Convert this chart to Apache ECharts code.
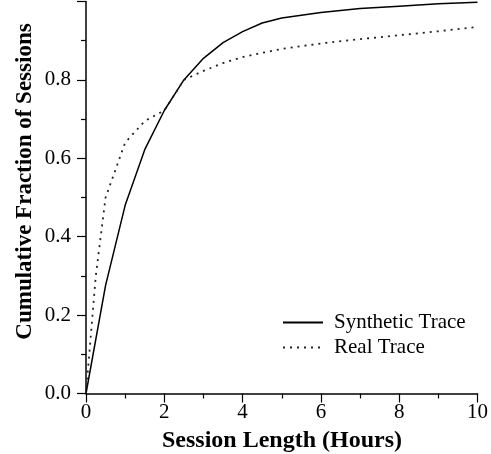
<!DOCTYPE html>
<html>
<head>
<meta charset="utf-8">
<script src="https://cdn.jsdelivr.net/npm/echarts@6/dist/echarts.min.js"></script>
<style>html,body{margin:0;padding:0;background:#fff;}#c{width:491px;height:454px;}</style>
</head>
<body>
<div id="c"></div>
<script>
var synthX = [0, 0.5, 1, 1.5, 2, 2.5, 3, 3.5, 4, 4.5, 5, 6, 7, 8, 9, 10];
var synthY = [0, 0.276, 0.48, 0.622, 0.722, 0.80, 0.855, 0.895, 0.923, 0.945, 0.958, 0.972, 0.982, 0.988, 0.994, 0.998];
var realX = [0, 0.25, 0.5, 1, 1.5, 2, 2.5, 3, 3.5, 4, 4.5, 5, 6, 7, 8, 9, 10];
var realY = [0, 0.30, 0.50, 0.64, 0.695, 0.722, 0.80, 0.823, 0.843, 0.858, 0.869, 0.879, 0.893, 0.904, 0.914, 0.924, 0.935];
var seriesNames = ['Synthetic Trace', 'Real Trace'];
var xTitle = 'Session Length (Hours)';
var yTitle = 'Cumulative Fraction of Sessions';

function pairs(xs, ys) { return xs.map(function (x, i) { return [x, ys[i]]; }); }

var FONT = '"Liberation Serif","Times New Roman",serif';
var chart = echarts.init(document.getElementById('c'), null, {renderer: 'canvas'});
chart.setOption({
  animation: false,
  backgroundColor: '#fff',
  grid: {left: 86, right: 13, top: 1.5, bottom: 60.5},
  legend: {
    orient: 'vertical', left: 277, top: 307, itemGap: 4, itemWidth: 40, itemHeight: 14,
    itemStyle: {opacity: 0},
    textStyle: {fontFamily: FONT, fontSize: 21, color: '#000', padding: [0, 0, 0, 6]},
    data: seriesNames
  },
  xAxis: {
    type: 'value', min: 0, max: 10, interval: 2,
    axisLine: {show: true, lineStyle: {color: '#000', width: 1.5}},
    axisTick: {show: true, length: 9, lineStyle: {color: '#000', width: 1.2}},
    minorTick: {show: true, splitNumber: 2, length: 5, lineStyle: {color: '#000', width: 1.2}},
    splitLine: {show: false},
    axisLabel: {fontFamily: FONT, fontSize: 21, color: '#000', margin: 8}
  },
  yAxis: {
    type: 'value', min: 0, max: 1, interval: 0.2,
    axisLine: {show: true, lineStyle: {color: '#000', width: 1.5}},
    axisTick: {show: true, length: 9, lineStyle: {color: '#000', width: 1.2}},
    minorTick: {show: true, splitNumber: 2, length: 5, lineStyle: {color: '#000', width: 1.2}},
    splitLine: {show: false},
    axisLabel: {fontFamily: FONT, fontSize: 21, color: '#000', margin: 15,
      formatter: function (v) { return v >= 1 ? '' : v.toFixed(1); }}
  },
  graphic: [
    {type: 'text', x: 282, y: 441,
     style: {text: xTitle, fontFamily: FONT, fontSize: 24, fontWeight: 'bold', fill: '#000', align: 'center', verticalAlign: 'middle'}},
    {type: 'text', x: 25, y: 181.5, rotation: Math.PI / 2,
     style: {text: yTitle, fontFamily: FONT, fontSize: 23, fontWeight: 'bold', fill: '#000', align: 'center', verticalAlign: 'middle'}}
  ],
  series: [
    {name: seriesNames[0], type: 'line', data: pairs(synthX, synthY), showSymbol: false, symbol: 'none',
     lineStyle: {color: '#000', width: 1.5, type: 'solid'}, itemStyle: {color: '#000'}},
    {name: seriesNames[1], type: 'line', data: pairs(realX, realY), showSymbol: false, symbol: 'none',
     lineStyle: {color: '#222', width: 1.8, type: [2, 5]}, itemStyle: {color: '#222'}}
  ]
});
</script>
</body>
</html>
